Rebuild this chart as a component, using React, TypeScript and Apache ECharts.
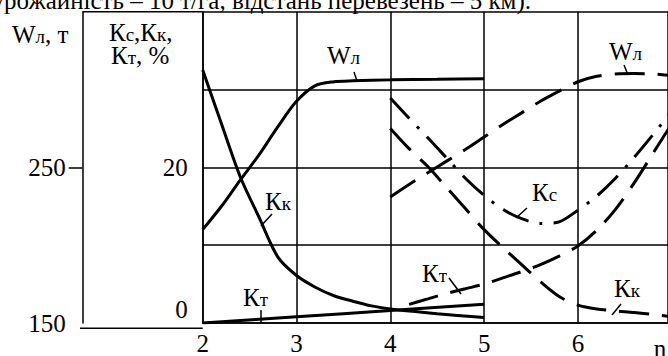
import React, { useEffect, useRef } from 'react';
import * as echarts from 'echarts';

// x axis (n) tick labels
const nTicks = [2, 3, 4, 5, 6];
// K axis labels shown
const kTickLabels = [0, 20];
// W axis labels shown
const wTickLabels = [150, 250];

// Solid set (n = 2..5)
const wSolid = [[2, 210], [2.2, 225], [2.4, 241.8], [2.6, 258], [2.8, 276], [3, 292.4], [3.2, 302.5], [3.4, 305], [3.6, 305.6], [4, 306.2], [4.5, 306.6], [5, 307]];
const kkSolid = [[2, 32.5], [2.2, 25.6], [2.4, 18.8], [2.6, 13.6], [2.8, 8.5], [3, 6.1], [3.2, 4.6], [3.4, 3.5], [3.6, 2.8], [3.8, 2.2], [4, 1.8], [4.5, 1.2], [5, 0.7]];
const ktSolid = [[2, 0], [3, 0.8], [4, 1.6], [5, 2.4]];

// Dashed set (n = 4..7)
const wDashed = [[4, 231], [4.2, 239], [4.4, 246.5], [4.6, 254], [4.8, 261.5], [5, 269.5], [5.2, 277.5], [5.4, 285], [5.6, 292.5], [5.8, 299], [6, 305], [6.2, 308.5], [6.4, 310], [6.6, 310.3], [6.8, 310], [7, 309]];
const ksDashDot = [[4, 28.9], [4.2, 26.3], [4.4, 23.8], [4.6, 21.2], [4.8, 18.6], [5, 16.4], [5.2, 14.6], [5.4, 13.4], [5.6, 12.8], [5.8, 13.0], [6, 14.5], [6.2, 16.3], [6.4, 18.6], [6.6, 21.3], [6.8, 24.2], [7, 27.2]];
const kkDashed = [[4, 25], [4.2, 22.4], [4.4, 20.1], [4.6, 17.4], [4.8, 14.7], [5, 12.0], [5.2, 9.7], [5.4, 7.5], [5.6, 5.3], [5.8, 3.4], [6, 2.3], [6.2, 1.8], [6.4, 1.55], [6.6, 1.35], [6.8, 1.1], [7, 0.8]];
const ktDashed = [[4.2, 2.4], [4.4, 3.1], [4.6, 3.8], [4.8, 4.4], [5, 5.0], [5.2, 5.8], [5.4, 6.6], [5.6, 7.5], [5.8, 8.6], [6, 9.9], [6.2, 11.9], [6.4, 14.6], [6.6, 18.0], [6.8, 21.8], [7, 25.6]];

const FONT = 'Liberation Serif';
const BLACK = '#000';
const FS = 25;

const rich = {
  m: { fontSize: FS, lineHeight: 24, fontFamily: FONT, fill: BLACK },
  s: { fontSize: 19, lineHeight: 16, fontFamily: FONT, fill: BLACK, verticalAlign: 'bottom' },
};

function label(x: number, y: number, text: string) {
  return {
    type: 'text',
    x,
    y,
    silent: true,
    style: { text, rich, align: 'left', verticalAlign: 'middle', fontFamily: FONT, fontSize: FS, fill: BLACK },
  };
}

function leader(x1: number, y1: number, x2: number, y2: number) {
  return { type: 'line', silent: true, shape: { x1, y1, x2, y2 }, style: { stroke: BLACK, lineWidth: 1.5 } };
}

function lineSeries(data: number[][], yAxisIndex: number, type: any) {
  return {
    type: 'line',
    data,
    yAxisIndex,
    showSymbol: false,
    symbol: 'none',
    smooth: 0.3,
    silent: true,
    lineStyle: { color: BLACK, width: 3, type, cap: 'butt' },
  };
}

export default function App() {
  const ref = useRef<HTMLDivElement>(null);
  useEffect(() => {
    if (!ref.current) return;
    const chart = echarts.init(ref.current, undefined, { renderer: 'svg' });
    const gridLine = { color: BLACK, width: 1.5 };
    const axisText = { fontSize: FS, fontFamily: FONT, color: BLACK };
    const option: any = {
      animation: false,
      backgroundColor: '#fff',
      textStyle: { fontFamily: FONT },
      grid: { left: 202.7, right: 0, top: 11.7, bottom: 27.7, containLabel: false },
      xAxis: {
        type: 'value',
        min: 2,
        max: 6.96,
        interval: 1,
        axisLine: { show: true, lineStyle: gridLine },
        axisTick: { show: false },
        axisLabel: {
          ...axisText,
          margin: 8,
          showMaxLabel: false,
          formatter: (v: number) => (nTicks.includes(v) ? String(v) : ''),
        },
        splitLine: { show: true, lineStyle: gridLine },
      },
      yAxis: [
        {
          type: 'value',
          min: 0,
          max: 40,
          interval: 10,
          position: 'left',
          axisLine: { show: true, lineStyle: gridLine },
          axisTick: { show: false },
          axisLabel: {
            ...axisText,
            margin: 15,
            formatter: (v: number) => (v === kTickLabels[0] ? '{z|' + v + '}' : kTickLabels.includes(v) ? String(v) : ''),
            rich: { z: { ...axisText, padding: [0, 0, 28, 0] } },
          },
          splitLine: { show: true, lineStyle: gridLine },
        },
        {
          type: 'value',
          min: 150,
          max: 350,
          interval: 50,
          position: 'left',
          offset: 120,
          axisLine: { show: true, onZero: false, lineStyle: gridLine },
          axisTick: { show: true, length: 14, customValues: [250], lineStyle: gridLine },
          axisLabel: {
            ...axisText,
            margin: 17,
            customValues: wTickLabels,
            formatter: (v: number) => (wTickLabels.includes(v) ? String(v) : ''),
          },
          splitLine: { show: false },
        },
      ],
      series: [
        lineSeries(wSolid, 1, 'solid'),
        lineSeries(kkSolid, 0, 'solid'),
        lineSeries(ktSolid, 0, 'solid'),
        lineSeries(wDashed, 1, [30, 13]),
        lineSeries(ksDashDot, 0, [28, 11, 3, 11]),
        lineSeries(kkDashed, 0, [30, 13]),
        lineSeries(ktDashed, 0, [30, 13]),
      ],
      graphic: [
        leader(82.7, 11.7, 202.7, 11.7),
        leader(80, 328.3, 202.7, 328.3),
        {
          type: 'text',
          x: 531,
          y: 0.5,
          silent: true,
          style: { text: 'урожайність – 10 т/га, відстань перевезень – 5 км).', fontSize: FS, fontFamily: FONT, fill: BLACK, align: 'right', verticalAlign: 'middle' },
        },
        {
          type: 'text',
          x: 660,
          y: 348,
          silent: true,
          style: { text: 'n', fontSize: FS, fontFamily: FONT, fill: BLACK, align: 'center', verticalAlign: 'middle' },
        },
        label(12, 34, '{m|W}{s|л}{m|, т}'),
        label(109, 32, '{m|К}{s|с}{m|,К}{s|к}{m|,}'),
        label(111, 55, '{m|К}{s|т}{m|, %}'),
        label(327, 55, '{m|W}{s|л}'),
        label(609, 51, '{m|W}{s|л}'),
        label(265, 201, '{m|К}{s|к}'),
        label(243, 297, '{m|К}{s|т}'),
        label(532, 192, '{m|К}{s|с}'),
        label(422, 273, '{m|К}{s|т}'),
        label(614, 288, '{m|К}{s|к}'),
        leader(354, 72, 357, 81),
        leader(624, 65, 628, 75),
        leader(272, 214, 261, 226),
        leader(261, 310, 261, 323),
        leader(527, 208, 516, 218),
        leader(449, 278, 461, 294),
        leader(621, 304, 612, 315),
      ],
    };
    chart.setOption(option);
    return () => chart.dispose();
  }, []);
  return <div ref={ref} style={{ position: 'absolute', left: 0, top: 0, width: 668, height: 356 }} />;
}
